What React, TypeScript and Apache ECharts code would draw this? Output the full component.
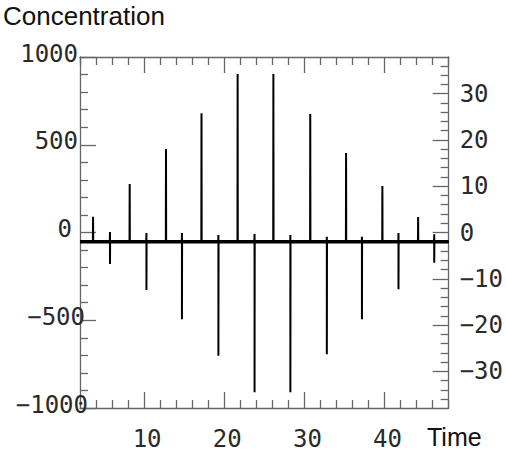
import React, { useEffect, useRef } from "react";
import * as echarts from "echarts";

// Spike train
const posSpikeX = [3.63, 8.2, 12.73, 17.16, 21.67, 26.13, 30.73, 35.2, 39.73, 44.19];
const posSpikeY = [90, 276, 476, 680, 903, 903, 675, 453, 265, 88];
const negSpikeX = [5.74, 10.29, 14.72, 19.27, 23.78, 28.25, 32.8, 37.18, 41.74, 46.2];
const negSpikeY = [-179, -328, -495, -702, -910, -910, -694, -494, -323, -172];
const negBlipY = [3, -3, -3, -14, -9, -14, -24, -24, -3, -10];
const baselineY = -52;
const timeRange = [2, 48];

const xMajorTicks = [10, 20, 30, 40];
const xMinorTicks = [2, 4, 6, 8, 12, 14, 16, 18, 22, 24, 26, 28, 32, 34, 36, 38, 42, 44, 46, 48];
const rightMajorTicks = [-30, -20, -10, 0, 10, 20, 30];
const rightMinorTicks = [-36, -34, -32, -28, -26, -24, -22, -18, -16, -14, -12, -8, -6, -4, -2, 2, 4, 6, 8, 12, 14, 16, 18, 22, 24, 26, 28, 32, 34, 36];
const rightRange = [-37.9, 37.9];

const AX = "#666666";
const MONO = "DejaVu Sans Mono";
const SANS = "Liberation Sans";

function buildLine(): number[][] {
  const ev: { x: number; pts: number[][] }[] = [];
  posSpikeX.forEach((x, i) => {
    ev.push({ x, pts: [[x - 0.02, baselineY], [x, posSpikeY[i]], [x + 0.02, baselineY]] });
  });
  negSpikeX.forEach((x, i) => {
    ev.push({ x, pts: [[x - 0.02, baselineY], [x, negBlipY[i]], [x, negSpikeY[i]], [x + 0.02, baselineY]] });
  });
  ev.sort((a, b) => a.x - b.x);
  const out: number[][] = [[timeRange[0], baselineY]];
  ev.forEach((e) => out.push(...e.pts));
  out.push([timeRange[1], baselineY]);
  return out;
}

const minus = (v: number) => String(v).replace("-", "\u2212");

export default function App() {
  const ref = useRef<HTMLDivElement>(null);
  useEffect(() => {
    if (!ref.current) return;
    const chart = echarts.init(ref.current, null, { renderer: "svg" });
    const lineStyle = { color: AX, width: 1.3 };
    const tickStyle = { color: AX, width: 1.3 };
    const labelBase = { fontFamily: MONO, fontSize: 24, lineHeight: 22, color: "#2a2a2a" };
    const leftPad: Record<string, number> = { "1000": 10, "500": 10, "0": 16, "-500": 3, "-1000": 0 };
    chart.setOption({
      animation: false,
      backgroundColor: "#ffffff",
      grid: { left: 80, right: 55, top: 57, bottom: 44, containLabel: false },
      graphic: [
        { type: "text", left: 3, top: 3, style: { text: "Concentration", font: `26px '${SANS}'`, fill: "#111" } },
        { type: "text", left: 427, top: 424, style: { text: "Time", font: `25px '${SANS}'`, fill: "#111" } },
      ],
      xAxis: [
        {
          type: "value", min: timeRange[0], max: timeRange[1], position: "bottom",
          axisLine: { show: true, onZero: false, lineStyle }, splitLine: { show: false },
          axisTick: { show: true, inside: true, length: 8, lineStyle: tickStyle, customValues: xMinorTicks },
          axisLabel: { show: false },
        },
        {
          type: "value", min: timeRange[0], max: timeRange[1], position: "bottom",
          axisLine: { show: false, onZero: false }, splitLine: { show: false },
          axisTick: { show: true, inside: true, length: 16, lineStyle: tickStyle, customValues: xMajorTicks },
          axisLabel: { show: true, customValues: xMajorTicks, margin: 20, ...labelBase, padding: [0, 0, 0, 6] },
        },
        {
          type: "value", min: timeRange[0], max: timeRange[1], position: "top",
          axisLine: { show: true, onZero: false, lineStyle }, splitLine: { show: false },
          axisTick: { show: true, inside: true, length: 8, lineStyle: tickStyle, customValues: xMinorTicks },
          axisLabel: { show: false },
        },
        {
          type: "value", min: timeRange[0], max: timeRange[1], position: "top",
          axisLine: { show: false, onZero: false }, splitLine: { show: false },
          axisTick: { show: true, inside: true, length: 16, lineStyle: tickStyle, customValues: xMajorTicks },
          axisLabel: { show: false },
        },
      ],
      yAxis: [
        {
          type: "value", min: -1000, max: 1000, interval: 500, position: "left",
          axisLine: { show: true, onZero: false, lineStyle }, splitLine: { show: false },
          axisTick: { show: true, inside: true, length: 16, lineStyle: tickStyle },
          minorTick: { show: true, splitNumber: 5, length: 8, lineStyle: tickStyle },
          minorSplitLine: { show: false },
          axisLabel: {
            show: true, margin: -8,
            formatter: (v: number) => `{p${leftPad[String(v)] ?? 0}|${minus(v)}}`,
            rich: {
              p0: { ...labelBase, padding: [0, 0, 7, 0] },
              p3: { ...labelBase, padding: [0, 3, 7, 0] },
              p10: { ...labelBase, padding: [0, 10, 7, 0] },
              p16: { ...labelBase, padding: [0, 16, 7, 0] },
            },
          },
        },
        {
          type: "value", min: rightRange[0], max: rightRange[1], position: "right",
          axisLine: { show: true, onZero: false, lineStyle }, splitLine: { show: false },
          axisTick: { show: true, inside: true, length: 8, lineStyle: tickStyle, customValues: rightMinorTicks },
          axisLabel: { show: false },
        },
        {
          type: "value", min: rightRange[0], max: rightRange[1], position: "right",
          axisLine: { show: false, onZero: false }, splitLine: { show: false },
          axisTick: { show: true, inside: true, length: 16, lineStyle: tickStyle, customValues: rightMajorTicks },
          axisLabel: { show: true, customValues: rightMajorTicks, margin: 11, formatter: (v: number) => minus(v), ...labelBase, padding: [0, 0, 4, 0] },
        },
      ],
      series: [
        {
          type: "line", xAxisIndex: 0, yAxisIndex: 0, data: [[timeRange[0], baselineY], [timeRange[1], baselineY]],
          showSymbol: false, symbol: "none", lineStyle: { color: "#000", width: 3.5 }, silent: true,
        },
        {
          type: "line", xAxisIndex: 0, yAxisIndex: 0, data: buildLine(),
          showSymbol: false, symbol: "none", lineStyle: { color: "#000", width: 2 }, silent: true,
        },
      ],
    });
    return () => chart.dispose();
  }, []);
  return <div ref={ref} style={{ width: 506, height: 452, position: "absolute", left: 0, top: 0 }} />;
}
